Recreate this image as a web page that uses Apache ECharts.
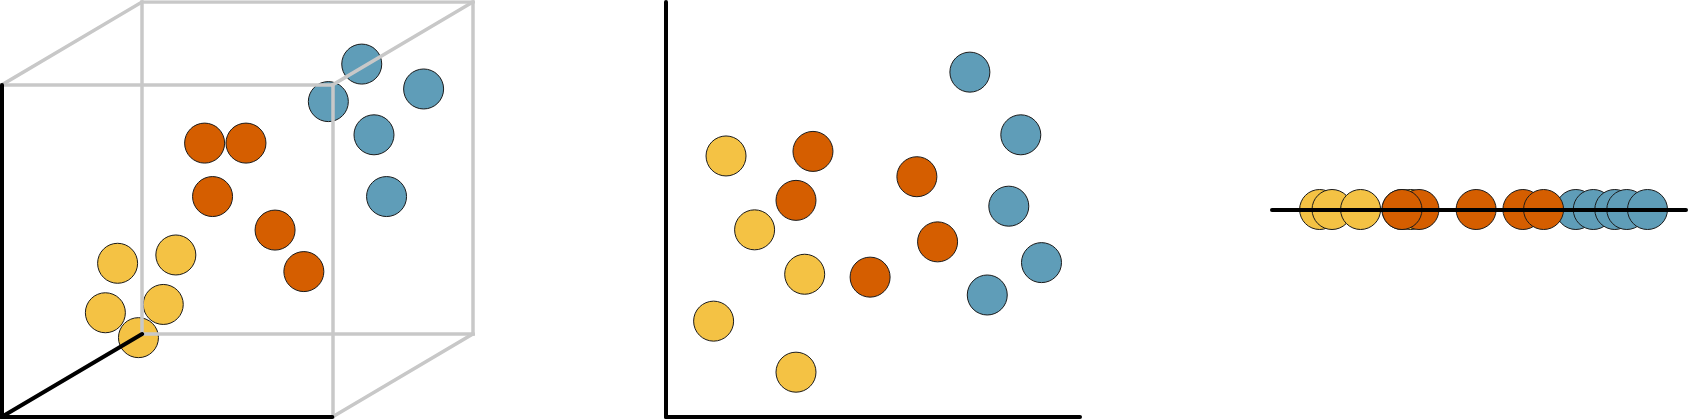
<!DOCTYPE html>
<html>
<head>
<meta charset="utf-8">
<title>3D / 2D / 1D</title>
<script src="https://cdn.jsdelivr.net/npm/echarts@6/dist/echarts.min.js"></script>
<style>
  html, body { margin: 0; padding: 0; background: #fff; }
  #chart { width: 1688px; height: 419px; }
</style>
</head>
<body>
<div id="chart"></div>
<script>
// colours
const YELLOW = '#F4C244';
const ORANGE = '#D55E00';
const BLUE = '#5F9DB8';

// left panel: points as seen in the drawn cube (front face is 0..10, depth shifts by 4.25 / 2.5)
const cubeYellow = [[3.51, 4.63], [5.27, 4.88], [3.14, 3.14], [4.89, 3.39], [4.14, 2.39]];
const cubeOrange = [[6.14, 8.25], [7.39, 8.25], [6.38, 6.64], [8.27, 5.63], [9.14, 4.38]];
const cubeBlue = [[10.89, 10.63], [12.76, 9.88], [9.88, 9.50], [11.26, 8.50], [11.64, 6.64]];

// cube edges
const cubeDepth = [4.25, 2.5];
const frontFace = [[0, 0], [10, 0], [10, 10], [0, 10]];
const blackEdges = [[[0, 0], [0, 10]], [[0, 0], [10, 0]], [[0, 0], cubeDepth]];

// middle panel: 2D scatter (0..10 both axes)
const flatYellow = [[1.15, 2.31], [1.45, 6.29], [2.14, 4.51], [3.14, 1.08], [3.35, 3.44]];
const flatOrange = [[3.55, 6.40], [3.14, 5.22], [4.93, 3.37], [6.06, 5.79], [6.56, 4.22]];
const flatBlue = [[7.34, 8.31], [7.76, 2.94], [8.28, 5.08], [8.57, 6.80], [9.07, 3.72]];

// right panel uses only the x of the middle panel
const lineYellow = flatYellow.map(p => [p[0], 0]);
const lineOrange = flatOrange.map(p => [p[0], 0]);
const lineBlue = flatBlue.map(p => [p[0], 0]);

const chart = echarts.init(document.getElementById('chart'));

function dots(data, color, idx) {
  return {
    type: 'scatter',
    xAxisIndex: idx,
    yAxisIndex: idx,
    data: data,
    symbol: 'circle',
    symbolSize: 40,
    clip: false,
    itemStyle: { color: color, borderColor: '#1a1a1a', borderWidth: 1, opacity: 1 },
    emphasis: { disabled: true },
    z: 2
  };
}

// grey edges of the cube: back face, rest of the front face and the three other depth edges
const backFace = frontFace.map(p => [p[0] + cubeDepth[0], p[1] + cubeDepth[1]]);
const greyEdges = [];
for (let i = 0; i < 4; i++) {
  greyEdges.push([backFace[i], backFace[(i + 1) % 4]]);
}
greyEdges.push([frontFace[1], frontFace[2]], [frontFace[2], frontFace[3]]);
for (let i = 1; i < 4; i++) {
  greyEdges.push([frontFace[i], backFace[i]]);
}

const hiddenAxis = (min, max, idx) => ({
  type: 'value', gridIndex: idx, min: min, max: max, show: false
});

const option = {
  animation: false,
  grid: [
    { left: 1.5, top: 2, width: 471.4, height: 415 },
    { left: 666, top: 2, width: 414, height: 415 },
    { left: 1272, top: 169, width: 414, height: 81 }
  ],
  xAxis: [
    hiddenAxis(0, 14.25, 0),
    {
      type: 'value', gridIndex: 1, min: 0, max: 10,
      axisLine: { show: true, lineStyle: { color: '#000', width: 4, cap: 'round' } },
      axisTick: { show: false }, axisLabel: { show: false }, splitLine: { show: false }
    },
    {
      type: 'value', gridIndex: 2, min: 0, max: 10, z: 5,
      axisLine: { show: true, onZero: true, lineStyle: { color: '#000', width: 4, cap: 'round' } },
      axisTick: { show: false }, axisLabel: { show: false }, splitLine: { show: false }
    }
  ],
  yAxis: [
    hiddenAxis(0, 12.5, 0),
    {
      type: 'value', gridIndex: 1, min: 0, max: 10,
      axisLine: { show: true, lineStyle: { color: '#000', width: 4, cap: 'round' } },
      axisTick: { show: false }, axisLabel: { show: false }, splitLine: { show: false }
    },
    hiddenAxis(-1, 1, 2)
  ],
  series: [
    dots(cubeYellow, YELLOW, 0),
    dots(cubeOrange, ORANGE, 0),
    dots(cubeBlue, BLUE, 0),
    {
      type: 'lines',
      coordinateSystem: 'cartesian2d',
      xAxisIndex: 0,
      yAxisIndex: 0,
      data: greyEdges.map(c => ({ coords: c })),
      lineStyle: { color: '#C8C8C8', width: 3.5, opacity: 1, cap: 'square' },
      silent: true,
      z: 3
    },
    {
      type: 'lines',
      coordinateSystem: 'cartesian2d',
      xAxisIndex: 0,
      yAxisIndex: 0,
      data: blackEdges.map(c => ({ coords: c })),
      lineStyle: { color: '#000', width: 4, opacity: 1, cap: 'round' },
      silent: true,
      z: 4
    },
    dots(flatBlue, BLUE, 1),
    dots(flatYellow, YELLOW, 1),
    dots(flatOrange, ORANGE, 1),
    dots(lineBlue, BLUE, 2),
    dots(lineYellow, YELLOW, 2),
    dots(lineOrange, ORANGE, 2)
  ]
};

chart.setOption(option);
</script>
</body>
</html>
